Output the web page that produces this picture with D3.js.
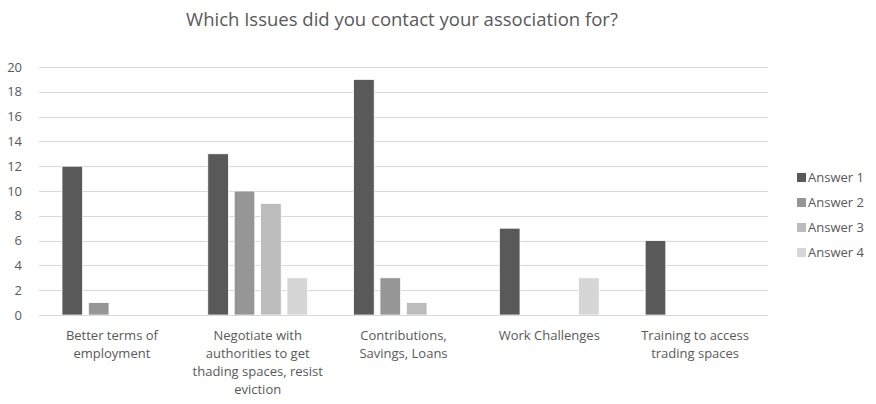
<!DOCTYPE html>
<html>
<head>
<meta charset="utf-8">
<script src="https://cdn.jsdelivr.net/npm/d3@7"></script>
<style>
  html, body { margin: 0; padding: 0; background: #fff; }
  svg { display: block; font-family: "Open Sans", "Noto Sans", sans-serif; }
</style>
</head>
<body>
<svg id="chart" width="876" height="404"></svg>
<script>
// Survey answers per issue
const categories = [
  ["Better terms of", "employment"],
  ["Negotiate with", "authorities to get", "thading spaces, resist", "eviction"],
  ["Contributions,", "Savings, Loans"],
  ["Work Challenges"],
  ["Training to access", "trading spaces"]
];
const seriesNames = ["Answer 1", "Answer 2", "Answer 3", "Answer 4"];
const answer1 = [12, 13, 19, 7, 6];
const answer2 = [1, 10, 3, 0, 0];
const answer3 = [0, 9, 1, 0, 0];
const answer4 = [0, 3, 0, 3, 0];
const yTicks = [0, 2, 4, 6, 8, 10, 12, 14, 16, 18, 20];
const colors = ["#595959", "#969696", "#bcbcbc", "#d6d6d6"];

const series = [answer1, answer2, answer3, answer4];
const svg = d3.select("#chart");
const textColor = "#595959";

const plot = { left: 39, right: 768, top: 67, bottom: 315 };

const x0 = d3.scaleBand()
  .domain(d3.range(categories.length))
  .range([plot.left, plot.right])
  .paddingInner(0)
  .paddingOuter(0);

const x1 = d3.scaleBand()
  .domain(d3.range(seriesNames.length))
  .range([23, x0.bandwidth() - 23])
  .paddingInner(0.22)
  .paddingOuter(0);

const y = d3.scaleLinear().domain([0, 20]).range([plot.bottom, plot.top]);

// Title
svg.append("text")
  .attr("x", 402).attr("y", 26)
  .attr("text-anchor", "middle")
  .attr("font-size", 18.5)
  .attr("fill", textColor)
  .text("Which Issues did you contact your association for?");

// Gridlines
svg.append("g")
  .selectAll("line")
  .data(yTicks)
  .join("line")
  .attr("x1", plot.left).attr("x2", plot.right)
  .attr("y1", d => Math.round(y(d)) + 0.5)
  .attr("y2", d => Math.round(y(d)) + 0.5)
  .attr("stroke", "#d9d9d9")
  .attr("stroke-width", 1);

// Y axis labels
const yAxis = d3.axisLeft(y).tickValues(yTicks).tickSize(0).tickPadding(0);
const yg = svg.append("g")
  .attr("transform", `translate(${plot.left - 17},0)`)
  .call(yAxis);
yg.select(".domain").remove();
yg.selectAll("text")
  .attr("font-size", 13)
  .attr("font-family", "\"Open Sans\", sans-serif")
  .attr("fill", textColor);

// Bars
const groups = svg.append("g")
  .selectAll("g")
  .data(categories.map((c, i) => i))
  .join("g")
  .attr("transform", i => `translate(${x0(i)},0)`);

groups.selectAll("rect")
  .data(i => series.map((s, k) => ({ k, v: s[i] })).filter(d => d.v > 0))
  .join("rect")
  .attr("x", d => x1(d.k))
  .attr("width", x1.bandwidth())
  .attr("y", d => y(d.v))
  .attr("height", d => y(0) - y(d.v))
  .attr("fill", d => colors[d.k])
  .attr("stroke", "#ffffff")
  .attr("stroke-width", 0.75);

// Axis baseline
svg.append("line")
  .attr("x1", plot.left).attr("x2", plot.right)
  .attr("y1", Math.round(y(0)) + 0.5).attr("y2", Math.round(y(0)) + 0.5)
  .attr("stroke", "#d9d9d9");

// Category labels
const xAxis = d3.axisBottom(x0).tickSize(0).tickFormat("");
svg.append("g").attr("transform", `translate(0,${plot.bottom})`).call(xAxis)
  .select(".domain").remove();

svg.append("g")
  .selectAll("text")
  .data(categories.map((lines, i) => ({ lines, i })))
  .join("text")
  .attr("text-anchor", "middle")
  .attr("font-size", 13)
  .attr("fill", textColor)
  .attr("x", d => x0(d.i) + x0.bandwidth() / 2)
  .attr("y", 340)
  .selectAll("tspan")
  .data(d => d.lines.map(l => ({ l, x: x0(d.i) + x0.bandwidth() / 2 })))
  .join("tspan")
  .attr("x", d => d.x)
  .attr("dy", (d, j) => j === 0 ? 0 : 18)
  .text(d => d.l);

// Legend
const legend = svg.append("g")
  .selectAll("g")
  .data(seriesNames)
  .join("g")
  .attr("transform", (d, i) => `translate(797,${173 + i * 25})`);
legend.append("rect")
  .attr("width", 9).attr("height", 9)
  .attr("fill", (d, i) => colors[i]);
legend.append("text")
  .attr("x", 11).attr("y", 9)
  .attr("font-size", 13)
  .attr("fill", textColor)
  .text(d => d);
</script>
</body>
</html>
